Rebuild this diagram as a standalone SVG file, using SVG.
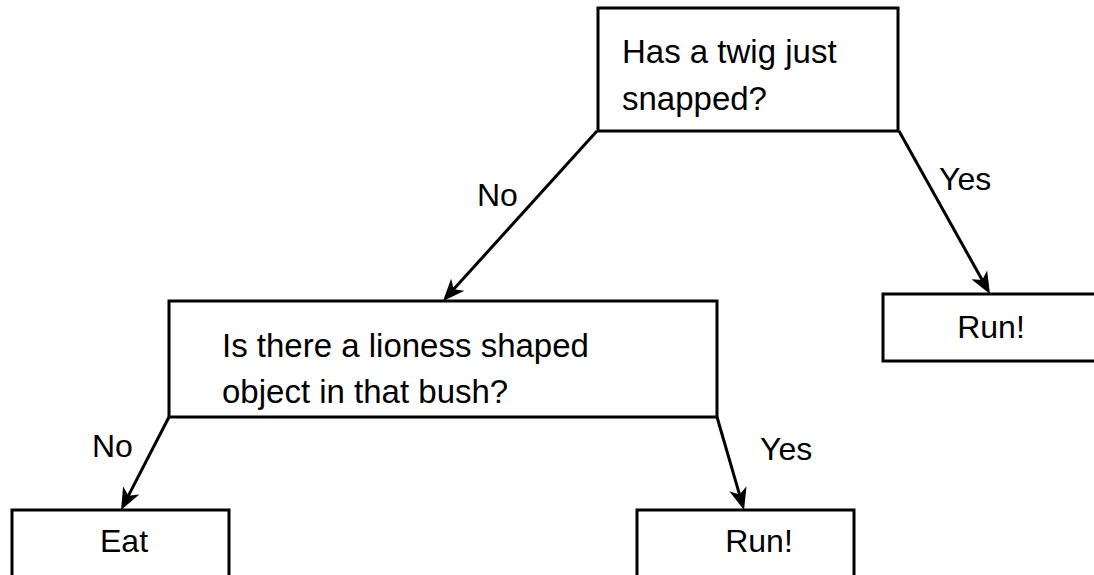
<svg xmlns="http://www.w3.org/2000/svg" width="1094" height="575" viewBox="0 0 1094 575">
  <style>
    .box { fill: #ffffff; stroke: #000000; stroke-width: 3; }
    .txt { font-family: "Liberation Sans", Arial, sans-serif; font-size: 32px; fill: #000000; }
    .big { font-size: 33px; }
    .mid { text-anchor: middle; }
    .edge { stroke: #000000; stroke-width: 3; fill: none; marker-end: url(#arrow); }
  </style>
  <defs>
    <marker id="arrow" viewBox="0 0 22 18" refX="14" refY="9" markerWidth="22" markerHeight="18" markerUnits="userSpaceOnUse" orient="auto">
      <path d="M0,0 L22,9 L0,18 L6,9 Z" fill="#000000"/>
    </marker>
  </defs>
  <rect width="1094" height="575" fill="#ffffff"/>

  <g id="connectors">
    <line class="edge" x1="597" y1="131" x2="448.4" y2="295.1"/>
    <line class="edge" x1="899" y1="131" x2="986.1" y2="287.0"/>
    <line class="edge" x1="169" y1="417" x2="124.7" y2="502.9"/>
    <line class="edge" x1="717" y1="417" x2="741.8" y2="502.3"/>
    <text class="txt" x="477" y="206">No</text>
    <text class="txt" x="939" y="190">Yes</text>
    <text class="txt" x="92" y="457">No</text>
    <text class="txt" x="760" y="460">Yes</text>
  </g>

  <g id="q1">
    <rect class="box" x="598" y="8" width="300" height="123"/>
    <text class="txt big" x="622" y="63">Has a twig just</text>
    <text class="txt big" x="622" y="110">snapped?</text>
  </g>

  <g id="q2">
    <rect class="box" x="169" y="301" width="548" height="116"/>
    <text class="txt big" x="222" y="357">Is there a lioness shaped</text>
    <text class="txt big" x="222" y="403">object in that bush?</text>
  </g>

  <g id="run1">
    <rect class="box" x="883" y="294" width="220" height="67"/>
    <text class="txt mid" x="991" y="338">Run!</text>
  </g>

  <g id="eat">
    <rect class="box" x="12" y="510" width="217" height="80"/>
    <text class="txt mid" x="124" y="552">Eat</text>
  </g>

  <g id="run2">
    <rect class="box" x="637" y="510" width="217" height="80"/>
    <text class="txt mid" x="759" y="552">Run!</text>
  </g>
</svg>
